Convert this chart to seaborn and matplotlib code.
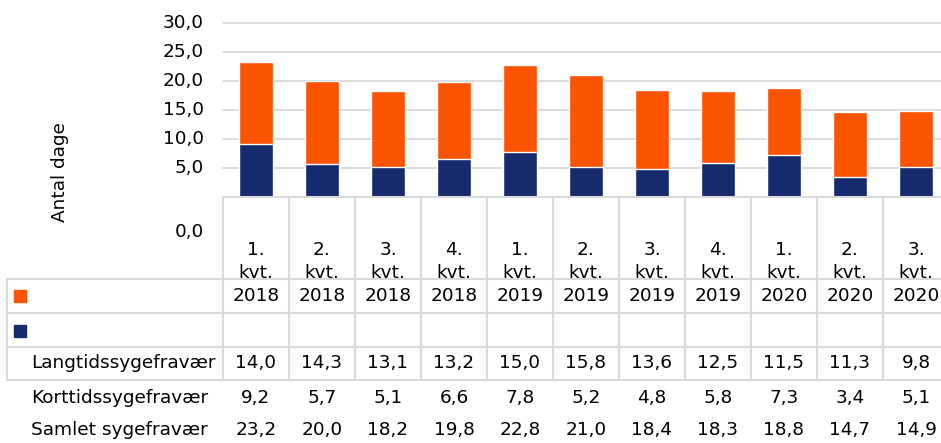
import matplotlib
matplotlib.use("Agg")
import matplotlib.pyplot as plt
import seaborn as sns
import pandas as pd

# -------------------------------
# Data
# -------------------------------
quarters = ["1. kvt. 2018", "2. kvt. 2018", "3. kvt. 2018", "4. kvt. 2018",
            "1. kvt. 2019", "2. kvt. 2019", "3. kvt. 2019", "4. kvt. 2019",
            "1. kvt. 2020", "2. kvt. 2020", "3. kvt. 2020"]
langtid = [14.0, 14.3, 13.1, 13.2, 15.0, 15.8, 13.6, 12.5, 11.5, 11.3, 9.8]
korttid = [9.2, 5.7, 5.1, 6.6, 7.8, 5.2, 4.8, 5.8, 7.3, 3.4, 5.1]
samlet = [23.2, 20.0, 18.2, 19.8, 22.8, 21.0, 18.4, 18.3, 18.8, 14.7, 14.9]
y_ticks = [5, 10, 15, 20, 25, 30]
row_names = ["Langtidssygefravær", "Korttidssygefravær", "Samlet sygefravær"]

orange = "#FA5402"
navy = "#162A6E"
grid_col = "#D9D9D9"

df = pd.DataFrame({"kvartal": quarters, "lang": langtid,
                   "kort": korttid, "samlet": samlet})

sns.set_theme(style="white")
plt.rcParams["font.family"] = ["DejaVu Sans"]
plt.rcParams["text.color"] = "black"
fs = 13.3

W, H = 941, 443
fig = plt.figure(figsize=(W / 100, H / 100), dpi=100)

# pixel helpers
x0, cell = 223, 66
y_top, y_base = 23, 197

# -------------------------------
# Bar area
# -------------------------------
ax = fig.add_axes([x0 / W, 1 - y_base / H, (W - x0) / W, (y_base - y_top) / H])
sns.barplot(data=df, x="kvartal", y="samlet", color=orange, width=0.52,
            saturation=1, ax=ax, zorder=3)
sns.barplot(data=df, x="kvartal", y="kort", color=navy, width=0.52,
            saturation=1, ax=ax, zorder=4)
ax.set_ylim(0, 30)
ax.set_xlim(-0.5, -0.5 + (W - x0) / cell)
ax.set_yticks(y_ticks)
ax.set_yticklabels([])
ax.set_xticks([])
ax.set_xlabel("")
ax.set_ylabel("")
for t in y_ticks:
    ax.axhline(t, color=grid_col, lw=1.3, zorder=1, clip_on=False)
for s in ax.spines.values():
    s.set_visible(False)
ax.tick_params(left=False, bottom=False)

# -------------------------------
# Overlay in pixel coords: ticks, table, labels
# -------------------------------
ov = fig.add_axes([0, 0, 1, 1])
ov.set_xlim(0, W)
ov.set_ylim(H, 0)
ov.axis("off")
ov.patch.set_alpha(0)

for t in y_ticks:
    yp = y_base - (y_base - y_top) * t / 30
    ov.text(204, yp, f"{t:.1f}".replace(".", ","), ha="right", va="center", fontsize=fs)
ov.text(204, 232, "0,0", ha="right", va="center", fontsize=fs)

ov.text(60, 172, "Antal dage", rotation=90, ha="center", va="center", fontsize=fs)

# table grid
row_y = [279, 313, 347, 380]
n = len(quarters)
ov.plot([x0, W], [y_base, y_base], color=grid_col, lw=1.5, zorder=5)
for yy in row_y:
    ov.plot([7, W], [yy, yy], color=grid_col, lw=1.5, zorder=5)
for i in range(n + 1):
    xx = x0 + cell * i
    ov.plot([xx, xx], [y_base, row_y[-1]], color=grid_col, lw=1.5, zorder=5)
ov.plot([7, 7], [row_y[0], row_y[-1]], color=grid_col, lw=1.5, zorder=5)

# legend keys
ov.add_patch(plt.Rectangle((14, 290), 12, 12, color=orange))
ov.add_patch(plt.Rectangle((14, 325), 12, 12, color=navy))

# category headers
for i, q in enumerate(quarters):
    xc = x0 + cell * (i + 0.5)
    parts = q.split(" ")
    ov.text(xc, 250, parts[0], ha="center", va="center", fontsize=fs, zorder=1)
    ov.text(xc, 273, parts[1], ha="center", va="center", fontsize=fs, zorder=1)
    ov.text(xc, 296, parts[2], ha="center", va="center", fontsize=fs)

# values
rows = [langtid, korttid, samlet]
row_text_y = [363, 398, 430]
for name, vals, yy in zip(row_names, rows, row_text_y):
    ov.text(31, yy, name, ha="left", va="center", fontsize=fs)
    for i, v in enumerate(vals):
        xc = x0 + cell * (i + 0.5)
        ov.text(xc, yy, f"{v:.1f}".replace(".", ","), ha="center", va="center", fontsize=fs)

fig.savefig("out.png", dpi=100)
